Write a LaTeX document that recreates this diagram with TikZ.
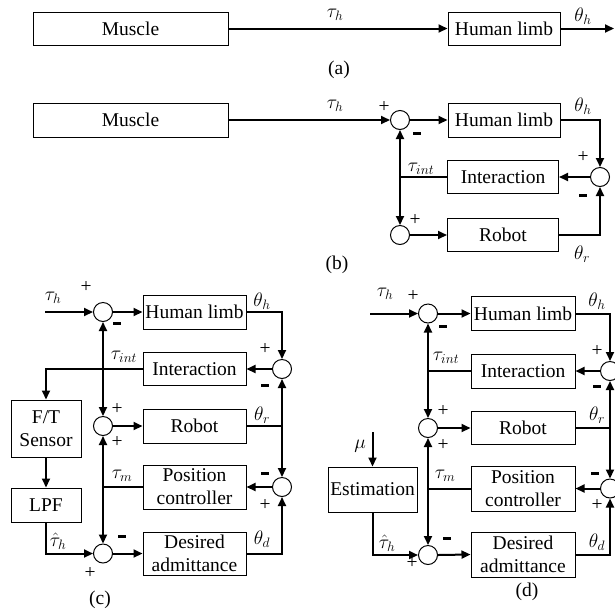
\RequirePackage{fix-cm}
\documentclass[tikz,border=0pt]{standalone}
\usepackage{fontspec}
\setmainfont{Liberation Serif}
\usetikzlibrary{arrows.meta}
\newcommand\fs{\fontsize{19.5}{23}\selectfont}
\newcommand\mns{\rule[0.3ex]{8pt}{2.4pt}}
\tikzset{
  blk/.style={draw, line width=1pt, inner sep=0pt, align=center, font=\fs},
  sumc/.style={draw, circle, minimum size=19pt, inner sep=0pt, line width=1pt},
  conn/.style={line width=2pt, -{Triangle[length=9pt,width=8pt]}},
  wire/.style={line width=2pt},
  dbl/.style={line width=2pt, {Triangle[length=9pt,width=8pt]}-{Triangle[length=9pt,width=8pt]}},
  lbl/.style={inner sep=0pt, font=\fs},
}
\begin{document}
\begin{tikzpicture}[x=1pt,y=-1pt]
\useasboundingbox (0,0) rectangle (615,614);
\clip (0,0) rectangle (615,614);
% ---------------- (a)
\node[blk, minimum width=195, minimum height=33] (am) at (130.5,28.5) {Muscle};
\node[blk, minimum width=112, minimum height=33] (ah) at (504,28.5) {Human limb};
\coordinate (aout) at (614,28.5);
\draw[conn] (am.east) -- (ah.west);
\draw[conn] (ah.east) -- (aout);
\node[lbl] (atau) at (335,15) {$\tau_h$};
\node[lbl] (ath) at (583,16) {$\theta_h$};
\node[lbl] (alab) at (339,70) {(a)};
% ---------------- (b)
\node[blk, minimum width=195, minimum height=34] (bm) at (130.5,120) {Muscle};
\node[blk, minimum width=112, minimum height=34] (bh) at (504,120) {Human limb};
\node[blk, minimum width=111, minimum height=33] (bi) at (503,177) {Interaction};
\node[blk, minimum width=111, minimum height=33] (br) at (503,235) {Robot};
\node[sumc] (bs1) at (400,120) {};
\node[sumc] (bs2) at (600,177) {};
\node[sumc] (bs3) at (400,235) {};
\coordinate (bj) at (400,177);
\draw[conn] (bm.east) -- (bs1.west);
\draw[conn] (bs1.east) -- (bh.west);
\draw[conn] (bh.east) -| (bs2.north);
\draw[conn] (bs2.west) -- (bi.east);
\draw[wire] (bi.west) -- (bj);
\draw[dbl] (bs1.south) -- (bs3.north);
\draw[conn] (bs3.east) -- (br.west);
\draw[conn] (br.east) -| (bs2.south);
\node[lbl] (btau) at (335,106) {$\tau_h$};
\node[lbl] (bp1) at (384,107) {+};
\node[lbl] (bm1) at (417,135) {\mns};
\node[lbl] (bth) at (583,106) {$\theta_h$};
\node[lbl] (btint) at (421,169) {$\tau_{int}$};
\node[lbl] (bp2) at (583,157) {+};
\node[lbl] (bm2) at (583,197) {\mns};
\node[lbl] (bp3) at (415,220) {+};
\node[lbl] (bthr) at (582,254) {$\theta_r$};
\node[lbl] (blab) at (337,265) {(b)};
% ---------------- (c)
\node[blk, minimum width=103, minimum height=34] (ch) at (194.5,312) {Human limb};
\node[blk, minimum width=103, minimum height=33] (ci) at (194.5,369) {Interaction};
\node[blk, minimum width=103, minimum height=34] (cr) at (194.5,426) {Robot};
\node[blk, minimum width=103, minimum height=44] (cpc) at (194.5,487) {Position\\controller};
\node[blk, minimum width=103, minimum height=43] (cda) at (194.5,553.5) {Desired\\admittance};
\node[blk, minimum width=70, minimum height=57] (cft) at (46,428.5) {F/T\\Sensor};
\node[blk, minimum width=70, minimum height=34] (clpf) at (46,505) {LPF};
\node[sumc] (cs1) at (103,312) {};
\node[sumc] (cs2) at (282,369) {};
\node[sumc] (cs3) at (103,426) {};
\node[sumc] (cs4) at (282,487) {};
\node[sumc] (cs5) at (103,553.5) {};
\coordinate (cin) at (45,312);
\draw[conn] (cin) -- (cs1.west);
\draw[conn] (cs1.east) -- (ch.west);
\draw[conn] (ch.east) -| (cs2.north);
\draw[conn] (cs2.west) -- (ci.east);
\draw[conn] (ci.west) -| (cft.north);
\draw[conn] (cft.south) -- (clpf.north);
\draw[conn] (clpf.south) |- (cs5.west);
\draw[dbl] (cs1.south) -- (cs3.north);
\draw[conn] (cs3.east) -- (cr.west);
\draw[wire] (cr.east) -- (cr.east -| cs2);
\draw[dbl] (cs2.south) -- (cs4.north);
\draw[conn] (cs4.west) -- (cpc.east);
\draw[wire] (cpc.west) -- (cpc.west -| cs3);
\draw[dbl] (cs3.south) -- (cs5.north);
\draw[conn] (cs5.east) -- (cda.west);
\draw[conn] (cda.east) -| (cs4.south);
\node[lbl] (ctau) at (53,298) {$\tau_h$};
\node[lbl] (cp1) at (86,287) {+};
\node[lbl] (cm1) at (117,325) {\mns};
\node[lbl] (cth) at (262,301) {$\theta_h$};
\node[lbl] (cp2) at (265,349) {+};
\node[lbl] (cm2) at (265,387) {\mns};
\node[lbl] (ctint) at (124,357) {$\tau_{int}$};
\node[lbl] (cp3) at (117,409) {+};
\node[lbl] (cp4) at (117,442) {+};
\node[lbl] (cthr) at (262,415) {$\theta_r$};
\node[lbl] (cm3) at (265,475) {\mns};
\node[lbl] (cp5) at (265,505) {+};
\node[lbl] (ctm) at (122,476) {$\tau_m$};
\node[lbl] (cm4) at (122,538) {\mns};
\node[lbl] (cp6) at (90,573) {+};
\node[lbl] (ctht) at (58,541) {$\hat{\tau}_h$};
\node[lbl] (cthd) at (262,539) {$\theta_d$};
\node[lbl] (clab) at (100,600) {(c)};
% ---------------- (d)
\node[blk, minimum width=104, minimum height=34] (dh) at (523,313.5) {Human limb};
\node[blk, minimum width=104, minimum height=34] (di) at (523,371) {Interaction};
\node[blk, minimum width=104, minimum height=33] (dr) at (523,428) {Robot};
\node[blk, minimum width=104, minimum height=45] (dpc) at (523,488.5) {Position\\controller};
\node[blk, minimum width=104, minimum height=45] (dda) at (523,554.5) {Desired\\admittance};
\node[blk, minimum width=89, minimum height=45] (dest) at (372.5,489.5) {Estimation};
\node[sumc] (ds1) at (428,313.5) {};
\node[sumc] (ds2) at (610,371) {};
\node[sumc] (ds3) at (428,428) {};
\node[sumc] (ds4) at (610,488.5) {};
\node[sumc] (ds5) at (428,555) {};
\coordinate (din) at (370,313.5);
\coordinate (dmu) at (372.5,432);
\draw[conn] (din) -- (ds1.west);
\draw[conn] (ds1.east) -- (dh.west);
\draw[conn] (dh.east) -| (ds2.north);
\draw[conn] (ds2.west) -- (di.east);
\draw[wire] (di.west) -- (di.west -| ds1);
\draw[dbl] (ds1.south) -- (ds3.north);
\draw[conn] (ds3.east) -- (dr.west);
\draw[wire] (dr.east) -- (dr.east -| ds2);
\draw[dbl] (ds2.south) -- (ds4.north);
\draw[conn] (ds4.west) -- (dpc.east);
\draw[wire] (dpc.west) -- (dpc.west -| ds3);
\draw[dbl] (ds3.south) -- (ds5.north);
\draw[conn] (ds5.east) -- (dda.west);
\draw[conn] (dda.east) -| (ds4.south);
\draw[conn] (dmu) -- (dest.north);
\draw[conn] (dest.south) |- (ds5.west);
\node[lbl] (dtau) at (385,294) {$\tau_h$};
\node[lbl] (dp1) at (413,296) {+};
\node[lbl] (dm1) at (443,328) {\mns};
\node[lbl] (dth) at (597,301) {$\theta_h$};
\node[lbl] (dp2) at (597,351) {+};
\node[lbl] (dm2) at (597,388) {\mns};
\node[lbl] (dtint) at (446,358) {$\tau_{int}$};
\node[lbl] (dp3) at (443,411) {+};
\node[lbl] (dp4) at (443,445) {+};
\node[lbl] (dthr) at (597,415) {$\theta_r$};
\node[lbl] (dm3) at (595,475) {\mns};
\node[lbl] (dp5) at (597,505) {+};
\node[lbl] (dtm) at (445,476) {$\tau_m$};
\node[lbl] (dmul) at (360,446) {$\mu$};
\node[lbl] (dtht) at (387,543) {$\hat{\tau}_h$};
\node[lbl] (dp6) at (412,563) {+};
\node[lbl] (dm4) at (447,540) {\mns};
\node[lbl] (dthd) at (597,542) {$\theta_d$};
\node[lbl] (dlab) at (527,592) {(d)};
\end{tikzpicture}
\end{document}
